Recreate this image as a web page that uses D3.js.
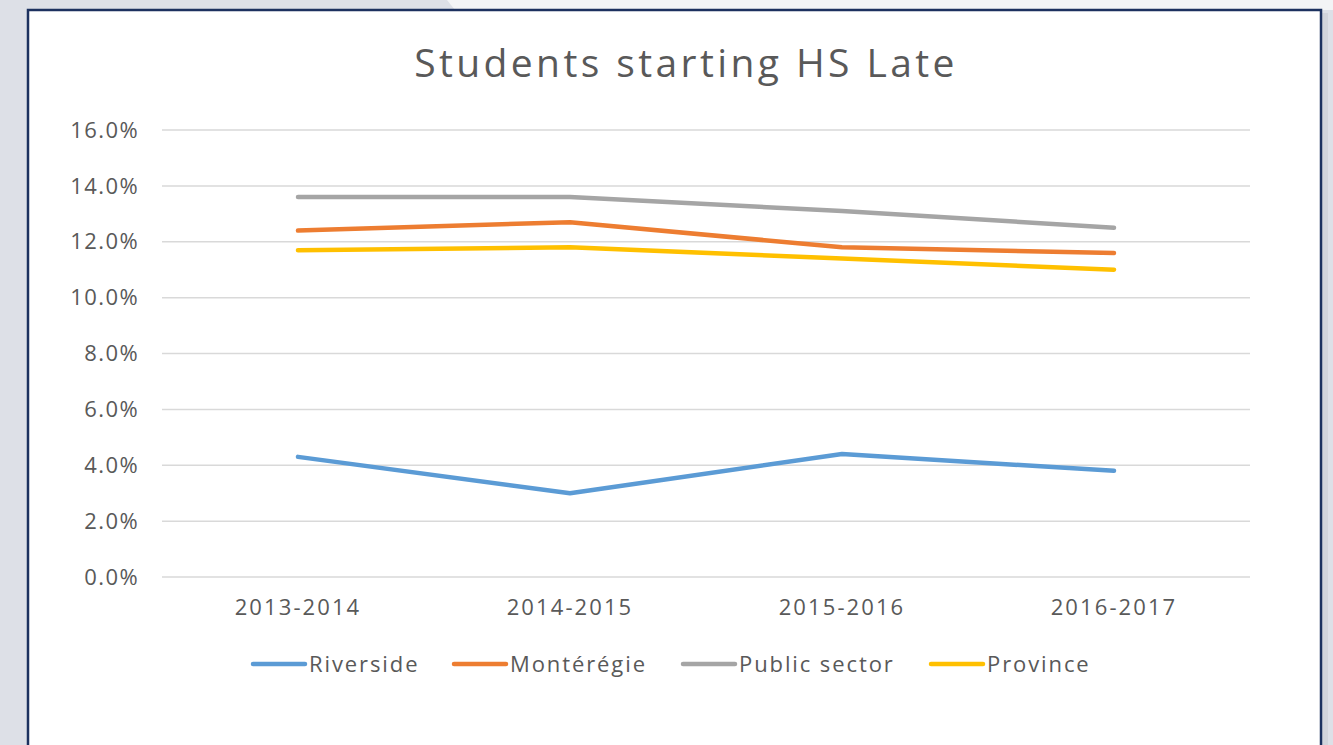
<!DOCTYPE html>
<html>
<head>
<meta charset="utf-8">
<script src="https://cdn.jsdelivr.net/npm/d3@7"></script>
<style>
  body { margin: 0; background: #dde0e7; overflow: hidden; }
  svg { display: block; font-family: "Open Sans", "Noto Sans", sans-serif; }
</style>
</head>
<body>
<div id="chart"></div>
<script>
const years = ['2013-2014', '2014-2015', '2015-2016', '2016-2017'];
const seriesNames = ['Riverside', 'Montérégie', 'Public sector', 'Province'];
const riverside = [4.3, 3.0, 4.4, 3.8];
const monteregie = [12.4, 12.7, 11.8, 11.6];
const publicSector = [13.6, 13.6, 13.1, 12.5];
const province = [11.7, 11.8, 11.4, 11.0];
const yTicks = [0, 2, 4, 6, 8, 10, 12, 14, 16];
const colors = ['#5b9bd5', '#ed7d31', '#a5a5a5', '#ffc000'];

const series = seriesNames.map((name, i) => ({
    name,
    values: [riverside, monteregie, publicSector, province][i],
    color: colors[i]
}));

const width = 1333, height = 745;
const svg = d3.select('#chart').append('svg')
    .attr('width', width)
    .attr('height', height);

// background: lighter wedge at top right
svg.append('path')
    .attr('d', 'M447,0 L1333,0 L1333,10 L455,10 Z')
    .attr('fill', '#f3f4f6');

// panel shadow + panel
svg.append('rect')
    .attr('x', 31).attr('y', 13)
    .attr('width', 1297).attr('height', 760)
    .attr('fill', '#c9ccd3')
    .attr('opacity', 0.6);
svg.append('rect')
    .attr('x', 28).attr('y', 10)
    .attr('width', 1293).attr('height', 760)
    .attr('fill', '#fff')
    .attr('stroke', '#1c315f')
    .attr('stroke-width', 2.5);

const x = d3.scaleBand().domain(years).range([162, 1250]);
const y = d3.scaleLinear().domain([0, 16]).range([577, 130]);

// gridlines
svg.append('g')
    .selectAll('line')
    .data(yTicks)
    .enter()
    .append('line')
    .attr('x1', 162).attr('x2', 1250)
    .attr('y1', d => y(d)).attr('y2', d => y(d))
    .attr('stroke', '#d9d9d9')
    .attr('stroke-width', 1.5);

// y labels
svg.append('g')
    .selectAll('text')
    .data(yTicks)
    .enter()
    .append('text')
    .attr('x', 139)
    .attr('y', d => y(d))
    .attr('dy', '0.35em')
    .attr('text-anchor', 'end')
    .attr('font-size', '22px')
    .attr('letter-spacing', '1.4px')
    .attr('fill', '#595959')
    .text(d => d3.format('.1f')(d) + '%');

// x labels
svg.append('g')
    .selectAll('text')
    .data(years)
    .enter()
    .append('text')
    .attr('x', d => x(d) + x.bandwidth() / 2)
    .attr('y', 615)
    .attr('text-anchor', 'middle')
    .attr('font-size', '22px')
    .attr('letter-spacing', '2.1px')
    .attr('fill', '#595959')
    .text(d => d);

// lines
const line = d3.line()
    .x((d, i) => x(years[i]) + x.bandwidth() / 2)
    .y(d => y(d));

svg.append('g')
    .selectAll('path')
    .data(series)
    .enter()
    .append('path')
    .attr('d', d => line(d.values))
    .attr('fill', 'none')
    .attr('stroke', d => d.color)
    .attr('stroke-width', 4.5)
    .attr('stroke-linecap', 'round')
    .attr('stroke-linejoin', 'round');

// title
svg.append('text')
    .attr('x', 686)
    .attr('y', 77)
    .attr('text-anchor', 'middle')
    .attr('font-size', '39px')
    .attr('font-weight', 500)
    .attr('letter-spacing', '3.4px')
    .attr('fill', '#595959')
    .text('Students starting HS Late');

// legend
const legendX = [251, 452, 681, 929];
const legend = svg.append('g')
    .selectAll('g')
    .data(series)
    .enter()
    .append('g')
    .attr('transform', (d, i) => `translate(${legendX[i]}, 664)`);

legend.append('line')
    .attr('x1', 2).attr('x2', 54)
    .attr('y1', 0).attr('y2', 0)
    .attr('stroke', d => d.color)
    .attr('stroke-width', 4.5)
    .attr('stroke-linecap', 'round');

legend.append('text')
    .attr('x', 58)
    .attr('y', 0)
    .attr('dy', '0.35em')
    .attr('font-size', '22px')
    .attr('letter-spacing', '1.9px')
    .attr('fill', '#595959')
    .text(d => d.name);
</script>
</body>
</html>
